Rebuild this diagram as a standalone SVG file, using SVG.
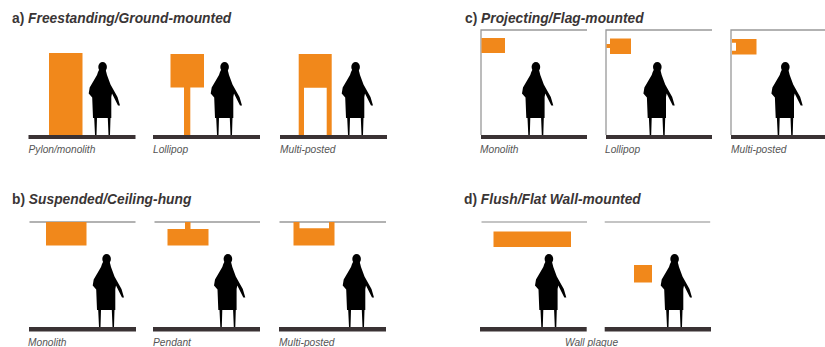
<svg xmlns="http://www.w3.org/2000/svg" xmlns:xlink="http://www.w3.org/1999/xlink" width="825" height="347" viewBox="0 0 825 347">
<style>
.t{font:italic bold 13.8px "Liberation Sans",Arial,sans-serif;fill:#3a3535}
.c{font:italic 10.2px "Liberation Sans",Arial,sans-serif;fill:#555}
.o{fill:#f1881b}
.g{fill:#3a3234}
.l{fill:#8a8a8a}
.k{fill:#666}
.f{fill:none;stroke:#999;stroke-width:1.3}
</style>
<defs>
<g id="p">
<ellipse cx="0.6" cy="-68" rx="4.300" ry="4.900"/>
<path d="M-2.500-66-4-63-5-60-8.500-54-12.300-47.500-13.300-41.500-9.800-37.500-9-17-7.800-17-7 0-5.500 0-5-17 5.800-17 6.500 0 8 0 8.500-17 9.300-17 9.300-38 10-41.500 16-29.500 18-29.500 15.500-38 8.500-50.500 5-60 3.500-66Z"/>
</g>
</defs>
<rect width="825" height="347" fill="#fff"/>
<g id="a">
<text class="t" x="12" y="23"><tspan font-style="normal">a)</tspan> Freestanding/Ground-mounted</text>
<g id="a1"><rect class="g" x="28.500" y="135" width="107" height="4"/><rect class="o" x="49" y="53" width="33.500" height="82"/><use xlink:href="#p" href="#p" x="102" y="135"/><text class="c" x="28.500" y="153">Pylon/monolith</text></g>
<g id="a2"><rect class="g" x="153" y="135" width="107" height="4"/><path class="o" d="M170.500 54H204V87.500H190.300V135H184V87.500H170.500Z"/><use xlink:href="#p" href="#p" x="224" y="135"/><text class="c" x="153" y="153">Lollipop</text></g>
<g id="a3"><rect class="g" x="280" y="135" width="107" height="4"/><path class="o" d="M298.700 54H331.700V135H326.700V87.700H304V135H298.700Z"/><use xlink:href="#p" href="#p" x="355" y="135"/><text class="c" x="280" y="153">Multi-posted</text></g>
</g>
<g id="b">
<text class="t" x="12" y="204"><tspan font-style="normal">b)</tspan> Suspended/Ceiling-hung</text>
<g id="b1"><rect class="k" x="29.500" y="221.500" width="106" height="1"/><rect class="g" x="29" y="327" width="107" height="4.500"/><rect class="o" x="46" y="222" width="40.500" height="23.500"/><use xlink:href="#p" href="#p" x="106" y="327"/><text class="c" x="28" y="346">Monolith</text></g>
<g id="b2"><rect class="k" x="154.500" y="221.500" width="105.500" height="1"/><rect class="g" x="153" y="327" width="107" height="4.500"/><path class="o" d="M185 222H190.500V229H208.500V245.500H167.500V229H185Z"/><use xlink:href="#p" href="#p" x="227.300" y="327"/><text class="c" x="153" y="346">Pendant</text></g>
<g id="b3"><rect class="k" x="279.500" y="221.500" width="106.500" height="1"/><rect class="g" x="279" y="327" width="107" height="4.500"/><path class="o" d="M293.500 222H299.500V228.300H329V222H334.500V245.500H293.500Z"/><use xlink:href="#p" href="#p" x="356" y="327"/><text class="c" x="279" y="346">Multi-posted</text></g>
</g>
<g id="c">
<text class="t" x="465" y="23"><tspan font-style="normal">c)</tspan> Projecting/Flag-mounted</text>
<g id="c1"><path class="f" d="M481 135V30H587"/><rect class="g" x="481" y="135" width="106" height="4"/><rect class="o" x="481.500" y="38" width="23.500" height="15"/><use xlink:href="#p" href="#p" x="535.300" y="135"/><text class="c" x="480" y="153">Monolith</text></g>
<g id="c2"><path class="f" d="M606 135V30H712"/><rect class="g" x="606" y="135" width="106" height="4"/><path class="o" d="M606.500 44H610V38.500H631V54H610V48H606.500Z"/><use xlink:href="#p" href="#p" x="656.700" y="135"/><text class="c" x="605" y="153">Lollipop</text></g>
<g id="c3"><path class="f" d="M731 135V30H825"/><rect class="g" x="731" y="135" width="94" height="4"/><path class="o" d="M732 39H756.500V54.500H732V50.700H736V42.700H732Z"/><use xlink:href="#p" href="#p" x="784.700" y="135"/><text class="c" x="731" y="153">Multi-posted</text></g>
</g>
<g id="d">
<text class="t" x="464" y="204"><tspan font-style="normal">d)</tspan> Flush/Flat Wall-mounted</text>
<g id="d1"><rect class="l" x="481.500" y="221.500" width="105.500" height="1"/><rect class="g" x="480" y="327" width="106.700" height="4.500"/><rect class="o" x="493.500" y="231.500" width="77.500" height="15.500"/><use xlink:href="#p" href="#p" x="548.300" y="327"/></g>
<g id="d2"><rect class="l" x="604.700" y="221.500" width="105.500" height="1"/><rect class="g" x="604.700" y="327" width="106.300" height="4.500"/><rect class="o" x="634" y="265" width="18" height="17.500"/><use xlink:href="#p" href="#p" x="674" y="327"/><text class="c" x="565" y="346">Wall plaque</text></g>
</g>
</svg>
